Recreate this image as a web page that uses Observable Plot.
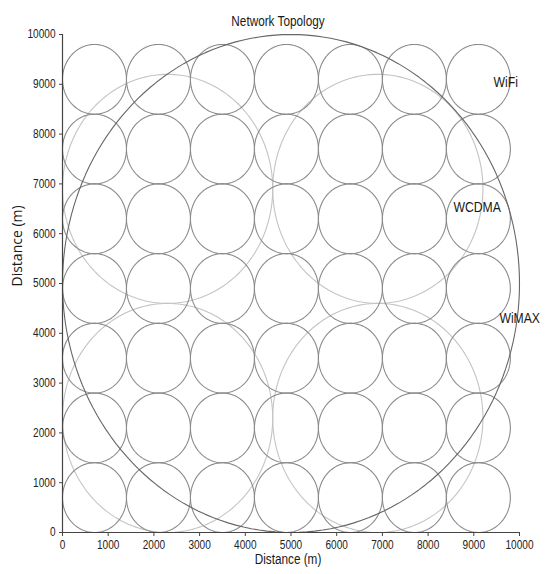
<!DOCTYPE html>
<html>
<head>
<meta charset="utf-8">
<script src="https://cdn.jsdelivr.net/npm/d3@7"></script>
<script src="https://cdn.jsdelivr.net/npm/@observablehq/plot@0.6"></script>
<style>
  body { margin: 0; background: #fff; }
</style>
</head>
<body>
<div id="chart"></div>
<script>
// ---- data ----
const title = "Network Topology";
const xLabel = "Distance (m)";
const yLabel = "Distance (m)";
const tickValues = [0, 1000, 2000, 3000, 4000, 5000, 6000, 7000, 8000, 9000, 10000];

// WiFi cells: 7x7 grid
const wifiCenters = [700, 2100, 3500, 4900, 6300, 7700, 9100];
const wifiRadius = 700;

// WCDMA cells: 2x2 grid
const wcdmaCenters = [2300, 6900];
const wcdmaRadius = 2300;

// WiMAX cell
const wimaxCenter = [5000, 5000];
const wimaxRadius = 5000;

// network labels
const netNames = ["WiFi", "WCDMA", "WiMAX"];
const netLabelX = [9430, 8555, 9560];
const netLabelY = [9030, 6535, 4290];

// ---- build circle outlines (geometry from centers & radii) ----
function circlePts(id, cx, cy, r) {
  const pts = [];
  for (let a = 0; a <= 360; a += 2) {
    const t = a * Math.PI / 180;
    pts.push({id, x: cx + r * Math.cos(t), y: cy + r * Math.sin(t)});
  }
  return pts;
}
const wifi = [];
wifiCenters.forEach((cx, i) => wifiCenters.forEach((cy, j) => wifi.push(...circlePts(`f${i}-${j}`, cx, cy, wifiRadius))));
const wcdma = [];
wcdmaCenters.forEach((cx, i) => wcdmaCenters.forEach((cy, j) => wcdma.push(...circlePts(`w${i}-${j}`, cx, cy, wcdmaRadius))));
const wimax = circlePts("m", wimaxCenter[0], wimaxCenter[1], wimaxRadius);
const labels = netNames.map((n, i) => ({n, x: netLabelX[i], y: netLabelY[i]}));

const chart = Plot.plot({
  width: 545,
  height: 574,
  marginLeft: 62,
  marginRight: 26,
  marginTop: 34,
  marginBottom: 42,
  style: {fontFamily: "'Liberation Sans', Arial, sans-serif", fontSize: "12px", color: "#222", background: "#fff"},
  x: {domain: [0, 10000]},
  y: {domain: [0, 10000]},
  marks: [
    Plot.line(wcdma, {x: "x", y: "y", z: "id", stroke: "#c4c4c4", strokeWidth: 1.1}),
    Plot.line(wifi, {x: "x", y: "y", z: "id", stroke: "#8a8a8a", strokeWidth: 1.1}),
    Plot.line(wimax, {x: "x", y: "y", z: "id", stroke: "#666", strokeWidth: 1.1}),
    Plot.ruleX([0], {stroke: "#444", strokeWidth: 1.2}),
    Plot.ruleY([0], {stroke: "#444", strokeWidth: 1.2}),
    Plot.axisX({ticks: tickValues, tickSize: 4, tickPadding: 4, tickFormat: d3.format("d"), label: null, stroke: "#444"}),
    Plot.axisY({ticks: tickValues, tickSize: 3, tickPadding: 4, tickFormat: d3.format("d"), label: null, stroke: "#444"}),
    Plot.text(labels, {x: "x", y: "y", text: "n", textAnchor: "start", fontSize: 14.5, fill: "#1a1a1a"}),
    Plot.text([title], {frameAnchor: "top", dx: -13, dy: -18, fontSize: 14, fill: "#1a1a1a"}),
    Plot.text([xLabel], {frameAnchor: "bottom", dx: -3, dy: 31, fontSize: 14, fill: "#1a1a1a"}),
    Plot.text([yLabel], {frameAnchor: "left", rotate: -90, dx: -45, dy: 3, fontSize: 14, fontFamily: "'Open Sans', sans-serif", fill: "#1a1a1a"})
  ]
});
document.getElementById("chart").appendChild(chart);

// narrow the lettering to mimic the reference's condensed typeface
chart.querySelectorAll("text").forEach(t => {
  if (t.closest('[font-family*="Open"]')) return;
  const len = t.getComputedTextLength();
  if (len > 0) {
    t.setAttribute("textLength", (len * 0.84).toFixed(1));
    t.setAttribute("lengthAdjust", "spacingAndGlyphs");
  }
});
</script>
</body>
</html>
